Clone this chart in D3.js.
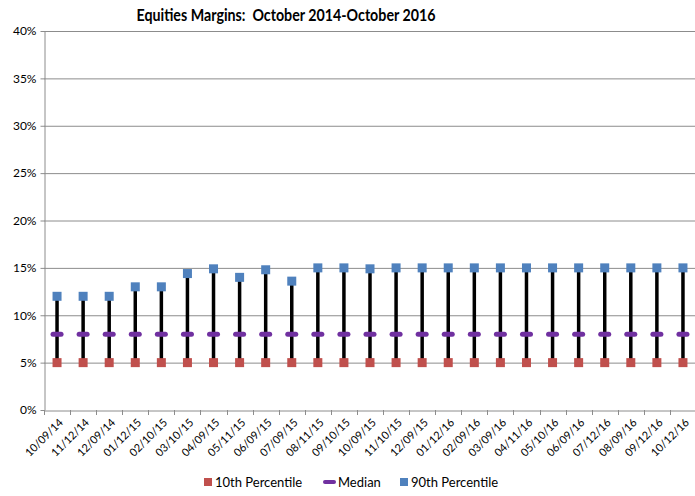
<!DOCTYPE html>
<html>
<head>
<meta charset="utf-8">
<script src="https://cdn.jsdelivr.net/npm/d3@7"></script>
<style>
  body { margin: 0; background: #fff; }
  text { font-family: Lato, "Open Sans", sans-serif; fill: #000; }
</style>
</head>
<body>
<div id="chart"></div>
<script>
const dates = ["10/09/14", "11/12/14", "12/09/14", "01/12/15", "02/10/15", "03/10/15", "04/09/15",
  "05/11/15", "06/09/15", "07/09/15", "08/11/15", "09/10/15", "10/09/15", "11/10/15", "12/09/15",
  "01/12/16", "02/09/16", "03/09/16", "04/11/16", "05/10/16", "06/09/16", "07/12/16", "08/09/16",
  "09/12/16", "10/12/16"];
const p10 = [5, 5, 5, 5, 5, 5, 5, 5, 5, 5, 5, 5, 5, 5, 5, 5, 5, 5, 5, 5, 5, 5, 5, 5, 5];
const median = [8, 8, 8, 8, 8, 8, 8, 8, 8, 8, 8, 8, 8, 8, 8, 8, 8, 8, 8, 8, 8, 8, 8, 8, 8];
const p90 = [12, 12, 12, 13, 13, 14.4, 14.9, 14, 14.8, 13.6, 15, 15, 14.9, 15, 15, 15, 15, 15, 15, 15, 15, 15, 15, 15, 15];
const yTicks = [0, 5, 10, 15, 20, 25, 30, 35, 40];

const width = 695, height = 496;
const margin = { top: 31, right: 0, bottom: 86, left: 44 };

const svg = d3.select("#chart").append("svg")
  .attr("width", width).attr("height", height);

const x = d3.scaleBand().domain(dates).range([margin.left, 696]);
const y = d3.scaleLinear().domain([0, 40]).range([height - margin.bottom, margin.top]);
const cx = d => x(d) + x.bandwidth() / 2;

// gridlines
svg.append("g").selectAll("line").data(yTicks.filter(t => t > 0)).join("line")
  .attr("x1", margin.left).attr("x2", width)
  .attr("y1", d => y(d) + 0.5).attr("y2", d => y(d) + 0.5)
  .attr("stroke", "#8c8c8c").attr("stroke-width", 1);

// y axis
const yAxis = svg.append("g")
  .attr("transform", `translate(${margin.left + 0.5},0)`)
  .call(d3.axisLeft(y).tickValues(yTicks).tickFormat(d => d + "%").tickSize(4).tickSizeOuter(0));
yAxis.select(".domain").attr("stroke", "#8c8c8c");
yAxis.selectAll(".tick line").attr("stroke", "#8c8c8c");
yAxis.selectAll(".tick").attr("transform", d => `translate(0,${y(d) + 0.5})`);
yAxis.selectAll("text").attr("font-size", 12).attr("font-family", "Lato, sans-serif").attr("x", -8);

// x axis
const xAxis = svg.append("g")
  .attr("transform", `translate(0,${y(0) + 0.5})`)
  .call(d3.axisBottom(x).tickSize(0).tickSizeOuter(0));
xAxis.select(".domain").attr("stroke", "#8c8c8c");
xAxis.selectAll("text")
  .attr("font-size", 11).attr("font-family", "Lato, sans-serif")
  .attr("text-anchor", "end")
  .attr("dy", "0.35em")
  .attr("transform", "translate(4,10) rotate(-45)")
  .attr("x", 0).attr("y", 0);
// tick marks between categories
svg.append("g").selectAll("line").data(dates).join("line")
  .attr("x1", d => Math.round(x(d)) + 0.5).attr("x2", d => Math.round(x(d)) + 0.5)
  .attr("y1", y(0)).attr("y2", y(0) + 5)
  .attr("stroke", "#8c8c8c");

// high-low lines
svg.append("g").selectAll("line").data(dates).join("line")
  .attr("x1", cx).attr("x2", cx)
  .attr("y1", (d, i) => y(p10[i])).attr("y2", (d, i) => y(p90[i]))
  .attr("stroke", "#000").attr("stroke-width", 3.5);

const sq = 9;
svg.append("g").selectAll("rect").data(dates).join("rect")
  .attr("x", d => cx(d) - sq / 2).attr("y", (d, i) => y(p10[i]) - sq / 2)
  .attr("width", sq).attr("height", sq).attr("fill", "#c0504d");

svg.append("g").selectAll("rect").data(dates).join("rect")
  .attr("x", d => cx(d) - 6.5).attr("y", (d, i) => y(median[i]) - 2.5)
  .attr("width", 13).attr("height", 5).attr("rx", 2.5).attr("fill", "#7030a0");

svg.append("g").selectAll("rect").data(dates).join("rect")
  .attr("x", d => cx(d) - sq / 2).attr("y", (d, i) => y(p90[i]) - sq / 2)
  .attr("width", sq).attr("height", sq).attr("fill", "#4f81bd");

// title
svg.append("text")
  .attr("x", 286).attr("y", 21)
  .attr("text-anchor", "middle")
  .attr("font-size", 17).attr("font-weight", "bold")
  .attr("textLength", 299).attr("lengthAdjust", "spacingAndGlyphs")
  .style("white-space", "pre")
  .text("Equities Margins:  October 2014-October 2016");

// legend
const legend = [
  { label: "10th Percentile", color: "#c0504d", kind: "sq", x: 204 },
  { label: "Median", color: "#7030a0", kind: "dash", x: 323 },
  { label: "90th Percentile", color: "#4f81bd", kind: "sq", x: 400 }
];
const lg = svg.append("g").selectAll("g").data(legend).join("g")
  .attr("transform", d => `translate(${d.x},482)`);
lg.each(function (d) {
  const g = d3.select(this);
  if (d.kind === "sq") {
    g.append("rect").attr("x", 0).attr("y", -4).attr("width", 8).attr("height", 8).attr("fill", d.color);
  } else {
    g.append("rect").attr("x", 0).attr("y", -2).attr("width", 13).attr("height", 4).attr("rx", 2).attr("fill", d.color);
  }
  g.append("text").attr("x", d.kind === "sq" ? 11 : 15).attr("y", 0).attr("dy", "0.35em")
    .attr("font-size", 13).text(d.label);
});
</script>
</body>
</html>
